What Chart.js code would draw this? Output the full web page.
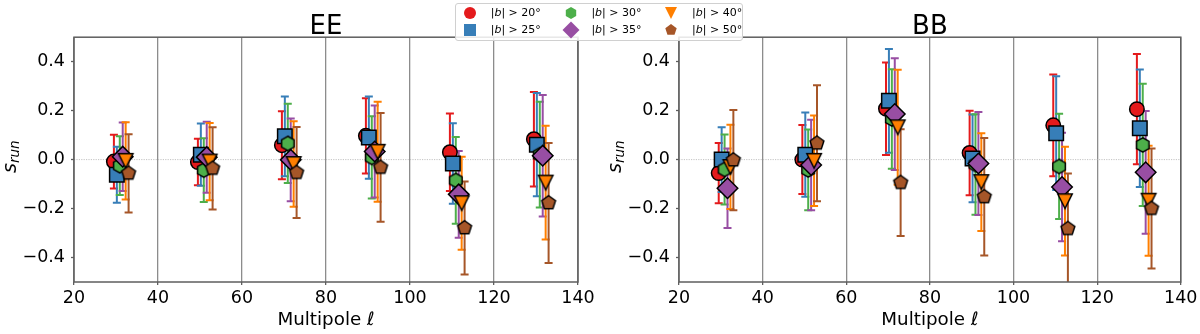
<!DOCTYPE html>
<html>
<head>
<meta charset="utf-8">
<script src="https://cdn.jsdelivr.net/npm/chart.js@4.4.1/dist/chart.umd.min.js"></script>
<style>
  html, body { margin: 0; padding: 0; background: #fff; }
  body { width: 1200px; height: 334px; position: relative; overflow: hidden; font-family: 'DejaVu Sans', sans-serif; }
  .panel { position: absolute; top: 0; }
  #legend { position: absolute; left: 455px; top: 3px; width: 288px; height: 38px; box-sizing: border-box;
            border: 1px solid #d0d0d0; border-radius: 3px; background: rgba(255,255,255,0.85); z-index: 5; }
  #legend canvas { position: absolute; }
  #legend span { position: absolute; font-size: 11px; line-height: 16px; white-space: nowrap; color: #000; }
</style>
</head>
<body>
<canvas id="ee" class="panel" width="600" height="334" style="left:0"></canvas>
<canvas id="bb" class="panel" width="600" height="334" style="left:600px"></canvas>
<div id="legend"></div>
<script>
// ---- data ----
const ellCentres = [30, 50, 70, 90, 110, 130];
const ellShift = [-0.5, 0.2, 0.9, 1.6, 2.3, 3.0];   // small ℓ offset of each |b| cut
const bCuts = [20, 25, 30, 35, 40, 50];
const xTicks = [20, 40, 60, 80, 100, 120, 140];
const yTicks = [-0.4, -0.2, 0, 0.2, 0.4];

// EE: values and 1-sigma errors per |b| cut
const ee20 = [-0.008, -0.010, 0.059, 0.097, 0.030, 0.083];
const ee25 = [-0.062, 0.020, 0.095, 0.090, -0.016, 0.061];
const ee30 = [-0.025, -0.043, 0.066, 0.009, -0.085, 0.020];
const ee35 = [0.012, 0.010, -0.001, 0.033, -0.142, 0.016];
const ee40 = [-0.005, -0.008, -0.018, 0.032, -0.178, -0.094];
const ee50 = [-0.056, -0.036, -0.053, -0.032, -0.279, -0.177];
const eeErr20 = [0.110, 0.095, 0.139, 0.154, 0.158, 0.193];
const eeErr25 = [0.114, 0.127, 0.163, 0.168, 0.164, 0.211];
const eeErr30 = [0.120, 0.130, 0.162, 0.168, 0.177, 0.216];
const eeErr35 = [0.140, 0.145, 0.169, 0.188, 0.177, 0.248];
const eeErr40 = [0.158, 0.158, 0.175, 0.204, 0.190, 0.232];
const eeErr50 = [0.160, 0.168, 0.186, 0.222, 0.190, 0.245];

// BB
const bb20 = [-0.055, 0.000, 0.208, 0.027, 0.140, 0.206];
const bb25 = [0.000, 0.020, 0.240, 0.005, 0.108, 0.128];
const bb30 = [-0.040, -0.042, 0.166, -0.020, -0.028, 0.060];
const bb35 = [-0.117, -0.022, 0.186, -0.016, -0.112, -0.052];
const bb40 = [-0.030, -0.005, 0.132, -0.092, -0.170, -0.168];
const bb50 = [-0.002, 0.067, -0.094, -0.152, -0.282, -0.200];
const bbErr20 = [0.123, 0.141, 0.189, 0.173, 0.208, 0.225];
const bbErr25 = [0.132, 0.172, 0.212, 0.179, 0.232, 0.240];
const bbErr30 = [0.143, 0.165, 0.203, 0.205, 0.215, 0.250];
const bbErr35 = [0.162, 0.185, 0.228, 0.210, 0.222, 0.251];
const bbErr40 = [0.172, 0.185, 0.235, 0.200, 0.222, 0.225];
const bbErr50 = [0.205, 0.237, 0.218, 0.240, 0.225, 0.245];

// ---- styles ----
const seriesColors = ['#e41a1c', '#377eb8', '#4daf4a', '#984ea3', '#ff7f00', '#a65628'];
const seriesShapes = ['circle', 'square', 'hexagon', 'diamond', 'tri_down', 'pentagon'];
const MS = 14.5;        // marker size (px)
const SPINE = '#5e5e5e';

Chart.defaults.font.family = "'DejaVu Sans', sans-serif";
Chart.defaults.color = '#000';

function tracePath(ctx, shape, cx, cy, ms) {
  const h = ms / 2;
  ctx.beginPath();
  if (shape === 'circle') {
    ctx.arc(cx, cy, h, 0, Math.PI * 2);
  } else if (shape === 'square') {
    ctx.rect(cx - h, cy - h, ms, ms);
  } else if (shape === 'diamond') {
    const d = h * Math.SQRT2;
    ctx.moveTo(cx, cy - d); ctx.lineTo(cx + d, cy); ctx.lineTo(cx, cy + d); ctx.lineTo(cx - d, cy);
  } else if (shape === 'tri_down') {
    ctx.moveTo(cx, cy + h); ctx.lineTo(cx - h, cy - h); ctx.lineTo(cx + h, cy - h);
  } else {
    const n = shape === 'hexagon' ? 6 : 5;
    for (let i = 0; i < n; i++) {
      const a = -Math.PI / 2 + i * 2 * Math.PI / n;
      const px = cx + h * Math.cos(a), py = cy + h * Math.sin(a);
      if (i) ctx.lineTo(px, py); else ctx.moveTo(px, py);
    }
  }
  ctx.closePath();
}

function markerCanvas(shape, color) {
  const c = document.createElement('canvas');
  c.width = 24; c.height = 24;
  const g = c.getContext('2d');
  tracePath(g, shape, 12, 12, MS);
  g.fillStyle = color; g.fill();
  g.lineWidth = 1.5; g.strokeStyle = '#000'; g.stroke();
  return c;
}

function pointStyleFor(shape, color) {
  if (shape === 'circle') return { style: 'circle', r: MS / 2 };
  if (shape === 'square') return { style: 'rect', r: MS / Math.SQRT2 };
  if (shape === 'diamond') return { style: 'rectRot', r: MS / Math.SQRT2 };
  return { style: markerCanvas(shape, color), r: 7 };
}

// error bars + dotted zero line, under the markers
const errorBarPlugin = {
  id: 'errorBars',
  beforeDatasetsDraw(chart) {
    const { ctx, chartArea: a, scales: { x, y } } = chart;
    ctx.save();
    ctx.beginPath(); ctx.rect(a.left, a.top, a.width, a.height); ctx.clip();
    const y0 = y.getPixelForValue(0);
    ctx.strokeStyle = '#b4b4b4'; ctx.lineWidth = 0.8; ctx.setLineDash([1.2, 1.2]);
    ctx.beginPath(); ctx.moveTo(a.left, y0); ctx.lineTo(a.right, y0); ctx.stroke();
    ctx.setLineDash([]);
    chart.data.datasets.forEach(ds => {
      ctx.strokeStyle = ds.backgroundColor; ctx.lineWidth = 2;
      ds.data.forEach((pt, k) => {
        const e = ds.errors[k];
        const px = x.getPixelForValue(pt.x);
        const top = y.getPixelForValue(pt.y + e), bot = y.getPixelForValue(pt.y - e);
        ctx.beginPath();
        ctx.moveTo(px, top); ctx.lineTo(px, bot);
        ctx.moveTo(px - 4, top); ctx.lineTo(px + 4, top);
        ctx.moveTo(px - 4, bot); ctx.lineTo(px + 4, bot);
        ctx.stroke();
      });
    });
    ctx.restore();
  },
  afterDatasetsDraw(chart) {
    const { ctx, chartArea: a } = chart;
    ctx.save();
    ctx.strokeStyle = SPINE; ctx.lineWidth = 1.5;
    ctx.strokeRect(a.left, a.top, a.width, a.height);
    ctx.restore();
  }
};

// y title s_run (italic with subscript)
const yTitleMain = 's';
const yTitleSub = 'run';
const yLabelPlugin = {
  id: 'yLabel',
  afterDraw(chart) {
    const { ctx, chartArea: a } = chart;
    ctx.save();
    ctx.translate(a.left - 58, (a.top + a.bottom) / 2 - 3);
    ctx.rotate(-Math.PI / 2);
    ctx.fillStyle = '#000';
    ctx.textBaseline = 'alphabetic';
    ctx.font = "italic 19px 'DejaVu Sans'";
    const w1 = ctx.measureText(yTitleMain).width;
    ctx.font = "italic 13.5px 'DejaVu Sans'";
    const w2 = ctx.measureText(yTitleSub).width;
    const x0 = -(w1 + w2) / 2;
    ctx.font = "italic 19px 'DejaVu Sans'";
    ctx.fillText(yTitleMain, x0, 0);
    ctx.font = "italic 13.5px 'DejaVu Sans'";
    ctx.fillText(yTitleSub, x0 + w1, 3);
    ctx.restore();
  }
};

function buildPanel(id, title, vals, errs, yAxisWidth, padRight) {
  const datasets = bCuts.map((cut, i) => {
    const ps = pointStyleFor(seriesShapes[i], seriesColors[i]);
    return {
      label: '|b| > ' + cut + '°',
      data: ellCentres.map((l, k) => ({ x: l + ellShift[i], y: vals[i][k] })),
      errors: errs[i],
      order: -i,
      backgroundColor: seriesColors[i],
      borderColor: '#000',
      pointStyle: ps.style,
      pointRadius: ps.r,
      pointHoverRadius: ps.r,
      pointBorderWidth: 1.5,
      pointBackgroundColor: seriesColors[i],
      pointBorderColor: '#000'
    };
  });

  return new Chart(document.getElementById(id), {
    type: 'scatter',
    data: { datasets },
    options: {
      responsive: false,
      animation: false,
      events: [],
      layout: { padding: { left: 0, right: padRight, top: 0, bottom: 0 } },
      plugins: {
        legend: { display: false },
        tooltip: { enabled: false },
        title: {
          display: true,
          text: title,
          fullSize: false,
          color: '#000',
          font: { size: 26, weight: 'normal', lineHeight: 1.2 },
          padding: { top: 12, bottom: -6 }
        }
      },
      scales: {
        x: {
          type: 'linear',
          min: 20,
          max: 140,
          afterBuildTicks: (s) => { s.ticks = xTicks.map(v => ({ value: v })); },
          afterFit: (s) => { s.height = 52; },
          ticks: { color: '#000', font: { size: 17.5 }, padding: 2.5, maxRotation: 0, callback: (v) => String(v) },
          grid: { color: '#8c8c8c', lineWidth: 1.3, tickLength: 3, tickColor: SPINE, tickWidth: 1.3 },
          border: { display: false },
          title: { display: true, text: 'Multipole ℓ', color: '#000', font: { size: 18.3 }, padding: { top: 0, bottom: 3 } }
        },
        y: {
          type: 'linear',
          min: -0.5,
          max: 0.5,
          afterBuildTicks: (s) => { s.ticks = yTicks.map(v => ({ value: v })); },
          afterFit: (s) => { s.width = yAxisWidth; },
          ticks: {
            color: '#000', font: { size: 17.5 }, padding: 6,
            callback: (v) => (v < 0 ? '\u2212' : '') + Math.abs(v).toFixed(1)
          },
          grid: { drawOnChartArea: false, tickLength: 3, tickColor: SPINE, tickWidth: 1.3 },
          border: { display: false }
        }
      }
    },
    plugins: [errorBarPlugin, yLabelPlugin]
  });
}

buildPanel('ee', 'EE',
  [ee20, ee25, ee30, ee35, ee40, ee50],
  [eeErr20, eeErr25, eeErr30, eeErr35, eeErr40, eeErr50], 74, 22);
buildPanel('bb', 'BB',
  [bb20, bb25, bb30, bb35, bb40, bb50],
  [bbErr20, bbErr25, bbErr30, bbErr35, bbErr40, bbErr50], 79, 17);

// ---- shared legend (3 columns, column-major) ----
const legend = document.getElementById('legend');
bCuts.forEach((cut, i) => {
  const col = Math.floor(i / 2), row = i % 2;
  const mx = 14 + col * 100.7, my = 8.5 + row * 17;
  const c = document.createElement('canvas');
  c.width = 22; c.height = 22;
  c.style.left = (mx - 11) + 'px';
  c.style.top = (my - 11) + 'px';
  const g = c.getContext('2d');
  tracePath(g, seriesShapes[i], 11, 11, 12);
  g.fillStyle = seriesColors[i]; g.fill();
  legend.appendChild(c);
  const t = document.createElement('span');
  t.innerHTML = '|<i>b</i>| &gt; ' + cut + '°';
  t.style.left = (mx + 20.7) + 'px';
  t.style.top = (my - 8) + 'px';
  legend.appendChild(t);
});
</script>
</body>
</html>
